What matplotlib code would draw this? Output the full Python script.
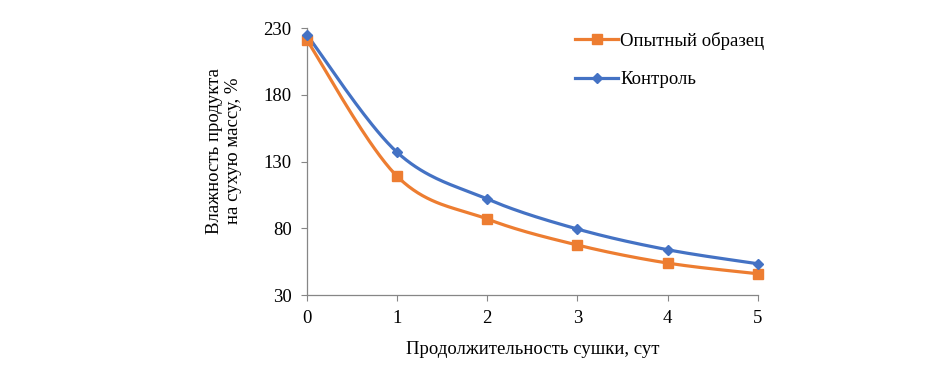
import matplotlib.pyplot as plt
import numpy as np
from matplotlib.lines import Line2D

plt.rcParams["font.family"] = ["Liberation Serif", "DejaVu Serif"]

days = [0, 1, 2, 3, 4, 5]
sample = [221, 119, 87, 67.5, 54, 46]
control = [225, 137, 102, 79.5, 64, 53.5]
labels = ["Опытный образец", "Контроль"]
colors = ["#ED7D31", "#4472C4"]


def smooth(x, y, n=40):
    # Excel-like smoothed line: cubic Bezier segments with Catmull-Rom tangents
    x = np.asarray(x, float)
    y = np.asarray(y, float)
    px = np.concatenate([[x[0]], x, [x[-1]]])
    py = np.concatenate([[y[0]], y, [y[-1]]])
    xs, ys = [], []
    t = np.linspace(0, 1, n)
    for i in range(len(x) - 1):
        p0 = np.array([px[i + 1], py[i + 1]])
        p3 = np.array([px[i + 2], py[i + 2]])
        p1 = p0 + (np.array([px[i + 2], py[i + 2]]) - np.array([px[i], py[i]])) / 6
        p2 = p3 - (np.array([px[i + 3], py[i + 3]]) - np.array([px[i + 1], py[i + 1]])) / 6
        b = ((1 - t) ** 3)[:, None] * p0 + (3 * (1 - t) ** 2 * t)[:, None] * p1 \
            + (3 * (1 - t) * t ** 2)[:, None] * p2 + (t ** 3)[:, None] * p3
        xs.append(b[:, 0])
        ys.append(b[:, 1])
    return np.concatenate(xs), np.concatenate(ys)


fig = plt.figure(figsize=(9.34, 3.67), dpi=100)
ax = fig.add_axes([0.3287, 0.196, 0.4825, 0.727])

handles = []
for vals, col, mk, ms, lab in [
    (sample, colors[0], "s", 7.5, labels[0]),
    (control, colors[1], "D", 5.5, labels[1]),
]:
    sx, sy = smooth(days, vals)
    ax.plot(sx, sy, color=col, lw=2.3, clip_on=False)
    ax.plot(days, vals, ls="none", marker=mk, ms=ms, color=col, clip_on=False, zorder=3)
    handles.append(Line2D([], [], color=col, lw=2.3, marker=mk, ms=ms, label=lab))

ax.set_xlim(0, 5)
ax.set_ylim(30, 230)
ax.set_xticks(days)
ax.set_yticks([30, 80, 130, 180, 230])
for s in ["top", "right"]:
    ax.spines[s].set_visible(False)
for s in ["left", "bottom"]:
    ax.spines[s].set_color("#868686")
    ax.spines[s].set_linewidth(0.9)
ax.tick_params(colors="#868686", labelcolor="black", labelsize=13.5, length=4, pad=7)

ax.set_xlabel("Продолжительность сушки, сут", fontsize=13.5, labelpad=10)
ax.set_ylabel("Влажность продукта\nна сухую массу, %", fontsize=13.5,
              linespacing=1.1)
ax.yaxis.set_label_coords(-0.145, 0.54)

ax.legend(handles=handles, loc="upper left", bbox_to_anchor=(0.558, 1.05), frameon=False,
          fontsize=13.5, handlelength=2.3, handletextpad=0.1, labelspacing=1.15)

fig.savefig("out.png", dpi=100)
